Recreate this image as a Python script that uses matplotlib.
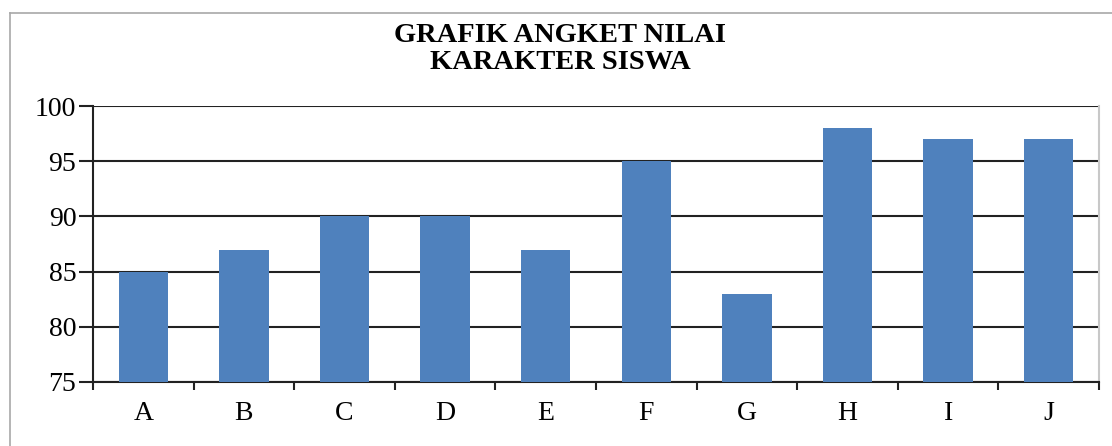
import matplotlib.pyplot as plt
from matplotlib.lines import Line2D

categories = ['A', 'B', 'C', 'D', 'E', 'F', 'G', 'H', 'I', 'J']
values = [85, 87, 90, 90, 87, 95, 83, 98, 97, 97]
y_ticks = [75, 80, 85, 90, 95, 100]

plt.rcParams['font.family'] = ['Liberation Serif', 'DejaVu Serif']

fig = plt.figure(figsize=(11.12, 4.46), dpi=100)
ax = fig.add_axes([93 / 1112, 1 - 382 / 446, (1099 - 93) / 1112, (382 - 106) / 446])

x = range(len(categories))
ax.bar(x, values, width=0.49, color='#4F81BD', zorder=3)

ax.set_xlim(-0.5, len(categories) - 0.5)
ax.set_ylim(75, 100)
ax.set_yticks(y_ticks)
ax.set_yticklabels([str(v) for v in y_ticks], fontsize=20)
ax.set_xticks(list(x))
ax.set_xticklabels(categories, fontsize=20)
ax.tick_params(axis='x', length=0, pad=14)
ax.set_xticks([i - 0.5 for i in range(len(categories) + 1)], minor=True)
ax.tick_params(axis='x', which='minor', length=6, width=1.5, color='#222222', direction='out')
ax.tick_params(axis='y', length=10, width=1.5, color='#222222', direction='out', pad=2)

ax.grid(axis='y', color='#222222', linewidth=1.5, zorder=1)
ax.set_axisbelow(True)

for side in ['left', 'bottom']:
    ax.spines[side].set_color('#222222')
    ax.spines[side].set_linewidth(1.5)
ax.spines['top'].set_visible(False)
ax.spines['right'].set_color('#c8c8c8')
ax.spines['right'].set_linewidth(1.5)

fig.text(560 / 1112, 1 - 49 / 446, 'GRAFIK ANGKET NILAI\nKARAKTER SISWA',
         ha='center', va='center', fontsize=20.5, fontweight='bold', linespacing=1.15)

# outer chart border (top and left visible)
fig.add_artist(Line2D([10 / 1112, 10 / 1112], [0, 1 - 13 / 446], transform=fig.transFigure,
                      color='#a8a8a8', linewidth=1.2))
fig.add_artist(Line2D([10 / 1112, 1], [1 - 13 / 446, 1 - 13 / 446], transform=fig.transFigure,
                      color='#a8a8a8', linewidth=1.2))

fig.savefig('out.png', dpi=100)
